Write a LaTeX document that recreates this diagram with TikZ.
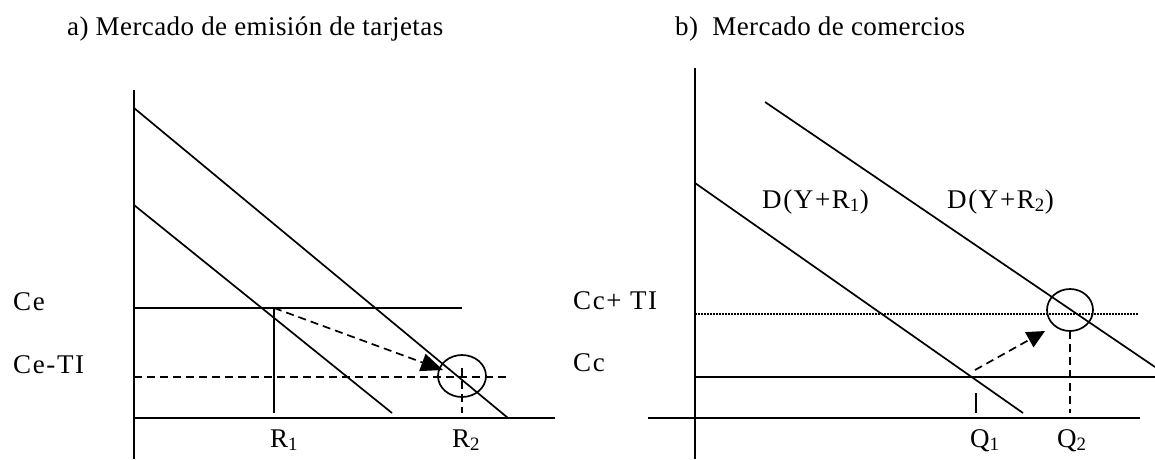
\documentclass[tikz,border=0pt]{standalone}
\usepackage{fontspec}
\setmainfont{Liberation Serif}
\newfontfamily\titlefont[LetterSpace=1.5]{Liberation Serif}
\newfontfamily\labfont[LetterSpace=6]{Liberation Serif}
\usetikzlibrary{arrows.meta,shapes.geometric}
\tikzset{
  axisline/.style={line width=2.2pt},
  curve/.style={line width=1.7pt},
  dashline/.style={line width=1.7pt, dash pattern=on 8pt off 5pt},
  dotline/.style={line width=1.1pt, dash pattern=on 1.5pt off 1.5pt},
  ring/.style={draw, ellipse, line width=1.7pt, inner sep=0pt},
  arr/.style={line width=1.7pt, dash pattern=on 8pt off 5pt, -{Triangle[length=22pt,width=18pt]}},
  title/.style={anchor=base west, inner sep=0pt, font=\titlefont\fontsize{27}{31}\selectfont},
  lab/.style={anchor=base west, inner sep=0pt, font=\labfont\fontsize{27}{31}\selectfont},
}
\begin{document}
\begin{tikzpicture}[x=1pt,y=-1pt]
\useasboundingbox (0,0) rectangle (1155,459);
% titles
\node[title] (ta) at (67,35) {a) Mercado de emisión de tarjetas};
\node[title] (tb) at (675,35) {b)\ \ Mercado de comercios};
% ---------- left panel ----------
\coordinate (LO) at (134,418);
\coordinate (LT) at (134,90);
\coordinate (LB) at (134,459);
\coordinate (LX) at (555,418);
\coordinate (U1) at (134,108);
\coordinate (U2) at (508,418);
\coordinate (W1) at (134,205);
\coordinate (W2) at (392,413);
\coordinate (Ce1) at (134,308);
\coordinate (Ce2) at (462,308);
\coordinate (R1t) at (274,308);
\coordinate (R1b) at (274,413);
\coordinate (Cd1) at (134,377);
\coordinate (Cd2) at (510,377);
\coordinate (R2t) at (462,368);
\coordinate (R2b) at (462,413);
\coordinate (A1e) at (443,370);
\draw[axisline] (LT) -- (LB);
\draw[axisline] (LO) -- (LX);
\draw[curve] (U1) -- (U2);
\draw[curve] (W1) -- (W2);
\draw[curve] (Ce1) -- (Ce2);
\draw[curve] (R1t) -- (R1b);
\draw[dashline] (Cd1) -- (Cd2);
\draw[dashline] (R2t) -- (R2b);
\node[ring, minimum width=48pt, minimum height=42pt] (E1) at (462,376) {};
\draw[arr] (R1t) -- (A1e);
\node[lab] (lCe) at (13,310) {Ce};
\node[lab] (lCeTI) at (13,373) {Ce-TI};
\node[lab] (lR1) at (270,447) {R\textsubscript{1}};
\node[lab] (lR2) at (452,447) {R\textsubscript{2}};
% ---------- right panel ----------
\coordinate (RT) at (695,68);
\coordinate (RB) at (695,459);
\coordinate (RX1) at (648,418);
\coordinate (RX2) at (1140,418);
\coordinate (D1a) at (695,183);
\coordinate (D1b) at (1023,413);
\coordinate (D2a) at (765,102);
\coordinate (D2b) at (1155,367);
\coordinate (Cc1) at (695,377);
\coordinate (Cc2) at (1155,377);
\coordinate (Ct1) at (695,314);
\coordinate (Ct2) at (1138,314);
\coordinate (Q2t) at (1070,331);
\coordinate (Q2b) at (1070,413);
\coordinate (Q1t) at (976,393);
\coordinate (Q1b) at (976,413);
\coordinate (A2s) at (975,370);
\coordinate (A2e) at (1045,331);
\draw[axisline] (RT) -- (RB);
\draw[axisline] (RX1) -- (RX2);
\draw[curve] (D1a) -- (D1b);
\draw[curve] (D2a) -- (D2b);
\draw[curve] (Cc1) -- (Cc2);
\draw[dotline] (Ct1) -- (Ct2);
\draw[dashline] (Q2t) -- (Q2b);
\draw[curve] (Q1t) -- (Q1b);
\node[ring, minimum width=46pt, minimum height=42pt] (E2) at (1070,310) {};
\draw[arr, -{Triangle[length=18pt,width=17pt]}] (A2s) -- (A2e);
\node[lab] (lD1) at (762,208) {D(Y+R\textsubscript{1})};
\node[lab] (lD2) at (947,208) {D(Y+R\textsubscript{2})};
\node[lab] (lCcTI) at (573,309) {Cc+ TI};
\node[lab] (lCc) at (573,371) {Cc};
\node[lab] (lQ1) at (970,447) {Q\textsubscript{1}};
\node[lab] (lQ2) at (1057,447) {Q\textsubscript{2}};
\end{tikzpicture}
\end{document}
